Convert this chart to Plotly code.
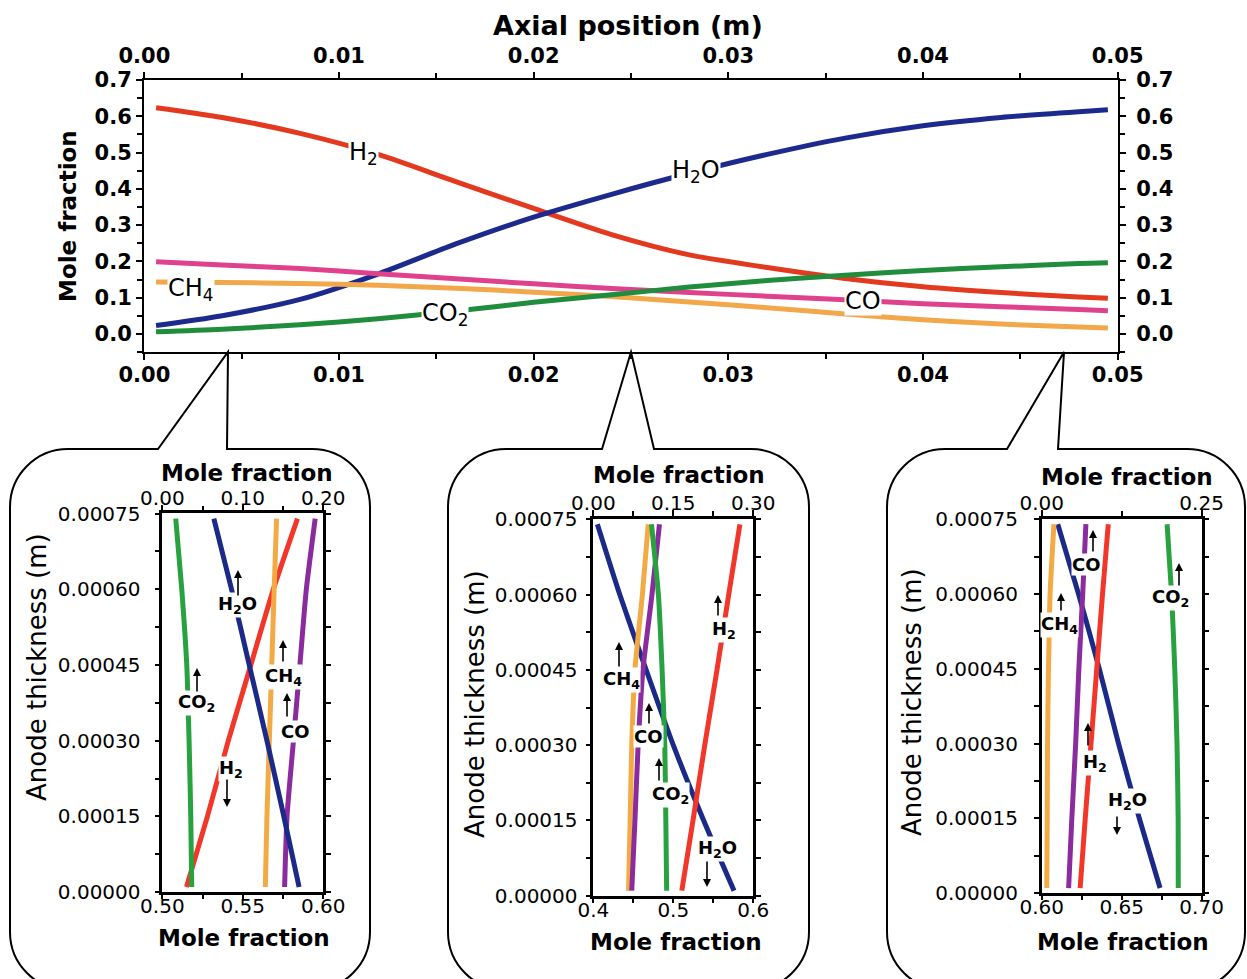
import plotly.graph_objects as go

W, H = 1247, 979
FONT = "DejaVu Sans"

# ---------------- main chart data ----------------
axial_pos = [0.0006, 0.004, 0.008, 0.012, 0.016, 0.020, 0.024, 0.028,
             0.032, 0.036, 0.040, 0.044, 0.048, 0.0495]
main_h2 = [0.624, 0.597, 0.553, 0.495, 0.420, 0.346, 0.274, 0.218,
           0.183, 0.153, 0.130, 0.114, 0.102, 0.098]
main_h2o = [0.023, 0.050, 0.095, 0.165, 0.248, 0.322, 0.385, 0.443,
            0.495, 0.540, 0.574, 0.597, 0.613, 0.618]
main_co = [0.199, 0.190, 0.180, 0.166, 0.152, 0.138, 0.125, 0.114,
           0.104, 0.094, 0.083, 0.075, 0.067, 0.064]
main_ch4 = [0.143, 0.142, 0.139, 0.134, 0.126, 0.115, 0.103, 0.088,
            0.072, 0.055, 0.039, 0.027, 0.019, 0.016]
main_co2 = [0.006, 0.013, 0.025, 0.042, 0.063, 0.087, 0.108, 0.129,
            0.147, 0.162, 0.175, 0.185, 0.194, 0.196]

# ---------------- inset data (anode thickness profiles) ----------------
thickness = [0.00001, 0.00015, 0.00030, 0.00045, 0.00060, 0.00074]

# inset 1 (near inlet): H2 on bottom axis, others on top axis
in1_h2 = [0.515, 0.528, 0.541, 0.555, 0.569, 0.584]
in1_h2o = [0.170, 0.151, 0.130, 0.108, 0.086, 0.064]
in1_ch4 = [0.128, 0.130, 0.133, 0.136, 0.139, 0.142]
in1_co = [0.152, 0.155, 0.163, 0.171, 0.179, 0.190]
in1_co2 = [0.0365, 0.0353, 0.0332, 0.0303, 0.0241, 0.0166]

# inset 2 (middle): H2O on bottom axis, others on top axis
in2_h2o = [0.576, 0.538, 0.500, 0.466, 0.433, 0.405]
in2_h2 = [0.166, 0.187, 0.209, 0.232, 0.254, 0.275]
in2_ch4 = [0.066, 0.069, 0.072, 0.078, 0.092, 0.103]
in2_co = [0.072, 0.078, 0.084, 0.093, 0.110, 0.124]
in2_co2 = [0.1375, 0.136, 0.134, 0.129, 0.122, 0.109]

# inset 3 (near outlet): H2O on bottom axis, others on top axis
in3_h2o = [0.674, 0.661, 0.648, 0.636, 0.623, 0.610]
in3_h2 = [0.060, 0.068, 0.077, 0.086, 0.095, 0.104]
in3_ch4 = [0.0078, 0.0085, 0.009, 0.0105, 0.013, 0.019]
in3_co = [0.042, 0.047, 0.053, 0.058, 0.064, 0.069]
in3_co2 = [0.2135, 0.2133, 0.2115, 0.208, 0.203, 0.196]

# colours
M_RED, M_BLUE, M_PINK, M_ORANGE, M_GREEN = "#e2391f", "#1c2a8e", "#e0418c", "#f2a74b", "#1f8d3b"
I_RED, I_BLUE, I_ORANGE, I_GREEN, I_PURPLE = "#f2372a", "#1b2a88", "#f4aa44", "#28a23f", "#8a2b9e"


def fx(x):
    return x / W


def fy(y):
    return 1 - y / H


fig = go.Figure()

# main traces
for vals, col in [(main_h2, M_RED), (main_h2o, M_BLUE), (main_co, M_PINK),
                  (main_ch4, M_ORANGE), (main_co2, M_GREEN)]:
    fig.add_trace(go.Scatter(x=axial_pos, y=vals, mode="lines", xaxis="x", yaxis="y",
                             line=dict(color=col, width=5, shape="spline", smoothing=0.8),
                             showlegend=False, hoverinfo="skip"))
# invisible twin so the top / right axes are drawn
fig.add_trace(go.Scatter(x=axial_pos, y=main_h2, mode="lines", xaxis="x2", yaxis="y2",
                         line=dict(width=0), opacity=0, showlegend=False, hoverinfo="skip"))

# inset traces: (values, colour, x-axis)
inset_sets = [
    ([(in1_co2, I_GREEN, "x4"), (in1_ch4, I_ORANGE, "x4"), (in1_co, I_PURPLE, "x4"),
      (in1_h2, I_RED, "x3"), (in1_h2o, I_BLUE, "x4")], "y3"),
    ([(in2_ch4, I_ORANGE, "x6"), (in2_co, I_PURPLE, "x6"), (in2_co2, I_GREEN, "x6"),
      (in2_h2, I_RED, "x6"), (in2_h2o, I_BLUE, "x5")], "y4"),
    ([(in3_ch4, I_ORANGE, "x8"), (in3_co, I_PURPLE, "x8"), (in3_h2, I_RED, "x8"),
      (in3_co2, I_GREEN, "x8"), (in3_h2o, I_BLUE, "x7")], "y5"),
]
for series, ya in inset_sets:
    for vals, col, xa in series:
        fig.add_trace(go.Scatter(x=vals, y=thickness, mode="lines", xaxis=xa, yaxis=ya,
                                 line=dict(color=col, width=5, shape="spline", smoothing=0.6),
                                 showlegend=False, hoverinfo="skip"))

main_tick_font = dict(family=FONT, size=21, color="black", weight="bold")
inset_tick_font = dict(family=FONT, size=20, color="black")

common = dict(showgrid=False, zeroline=False, showline=True, linecolor="black",
              ticks="outside", tickcolor="black")

main_x_dom = [fx(144), fx(1118)]
main_y_dom = [fy(352), fy(80)]


def minor(dt, t0=0, ln=5):
    return dict(ticks="outside", dtick=dt, tick0=t0, ticklen=ln, tickwidth=2, tickcolor="black")


layout = dict(
    width=W, height=H, margin=dict(l=0, r=0, t=0, b=0),
    paper_bgcolor="white", plot_bgcolor="white", template="none",
    showlegend=False,
    xaxis=dict(domain=main_x_dom, anchor="y", range=[-0.00002, 0.05002], side="bottom",
               tick0=0, dtick=0.01, tickformat=".2f", linewidth=2, ticklen=6, tickwidth=2,
               minor=minor(0.005), tickfont=main_tick_font, ticklabelstandoff=-3, **common),
    xaxis2=dict(overlaying="x", anchor="y", side="top", range=[-0.00002, 0.05002],
                tick0=0, dtick=0.01, tickformat=".2f", linewidth=2, ticklen=6, tickwidth=2,
                minor=minor(0.005), tickfont=main_tick_font, ticklabelstandoff=1, **common),
    yaxis=dict(domain=main_y_dom, anchor="x", range=[-0.05, 0.7003], tick0=0, dtick=0.1,
               tickformat=".1f", linewidth=2, ticklen=6, tickwidth=2,
               minor=minor(0.05), tickfont=main_tick_font, ticklabelstandoff=0, **common),
    yaxis2=dict(overlaying="y", anchor="x", side="right", range=[-0.05, 0.7003], tick0=0, dtick=0.1,
                tickformat=".1f", linewidth=2, ticklen=6, tickwidth=2,
                minor=minor(0.05), tickfont=main_tick_font, ticklabelstandoff=6, **common),
)

insets = [
    ((162.3, 323.3), (513.3, 892.3), ([0.5, 0.6], 0.05, 0.025, ".2f"), ([0, 0.2], 0.1, 0.05, ".2f"), ("xaxis3", "xaxis4", "x3"), "yaxis3", "y3", 10),
    ((593.3, 753.3), (519.0, 896.0), ([0.4, 0.6], 0.1, 0.05, ".1f"), ([0, 0.3], 0.15, 0.075, ".2f"), ("xaxis5", "xaxis6", "x5"), "yaxis4", "y4", 4),
    ((1041.7, 1201.7), (519.0, 893.3), ([0.6, 0.7], 0.05, 0.025, ".2f"), ([0, 0.25], 0.25, 0.125, ".2f"), ("xaxis7", "xaxis8", "x7"), "yaxis5", "y5", 12),
]
for (xr, yr, bot, top, xnames, yname, yref, ystand) in insets:
    xdom = [fx(xr[0]), fx(xr[1])]
    ydom = [fy(yr[1]), fy(yr[0])]
    b_rng, b_dt, b_minor, b_fmt = bot
    t_rng, t_dt, t_minor, t_fmt = top
    pad_b = (b_rng[1] - b_rng[0]) * 0.0005
    pad_t = (t_rng[1] - t_rng[0]) * 0.0005
    layout[xnames[0]] = dict(domain=xdom, anchor=yref, side="bottom",
                             range=[b_rng[0] - pad_b, b_rng[1] + pad_b], tick0=b_rng[0], dtick=b_dt,
                             tickformat=b_fmt, linewidth=2.5, ticklen=4, tickwidth=2,
                             minor=minor(b_minor, b_rng[0], 4),
                             tickfont=inset_tick_font, ticklabelstandoff=-10, **common)
    layout[xnames[1]] = dict(overlaying=xnames[2], anchor=yref, side="top",
                             range=[t_rng[0] - pad_t, t_rng[1] + pad_t], tick0=t_rng[0], dtick=t_dt,
                             tickformat=t_fmt, linewidth=2.5, ticklen=6, tickwidth=2,
                             minor=minor(t_minor, t_rng[0], 5),
                             tickfont=inset_tick_font, ticklabelstandoff=-8, **common)
    layout[yname] = dict(domain=ydom, anchor=xnames[2], range=[-0.0000005, 0.0007505],
                         tick0=0, dtick=0.00015, tickformat=".5f", linewidth=2.5, ticklen=5, tickwidth=2,
                         mirror="ticks", minor=minor(0.000075, 0, 5),
                         tickfont=inset_tick_font, ticklabelstandoff=ystand, **common)

fig.update_layout(**layout)

# ---------------- callout bubbles ----------------
K = 0.5523


def P(x, y):
    return f"{fx(x):.5f},{fy(y):.5f}"


def bubble(L, R, T, B, r, tl, apex, tr):
    return (f"M {P(L, T + r)} C {P(L, T + r - K * r)} {P(L + r - K * r, T)} {P(L + r, T)} "
            f"L {P(tl, T)} L {P(*apex)} L {P(tr, T)} L {P(R - r, T)} "
            f"C {P(R - r + K * r, T)} {P(R, T + r - K * r)} {P(R, T + r)} "
            f"L {P(R, B - r)} C {P(R, B - r + K * r)} {P(R - r + K * r, B)} {P(R - r, B)} "
            f"L {P(L + r, B)} C {P(L + r - K * r, B)} {P(L, B - r + K * r)} {P(L, B - r)} Z")


shapes = []
for L, R, tl, apex, tr in [(10, 370, 158, (228, 352), 227),
                           (448, 809, 602, (631, 352), 654),
                           (887, 1245, 1007, (1064, 352), 1058)]:
    shapes.append(dict(type="path", xref="paper", yref="paper", layer="below",
                       path=bubble(L, R, 449, 990, 58, tl, apex, tr),
                       line=dict(color="black", width=2), fillcolor="rgba(0,0,0,0)"))
fig.update_layout(shapes=shapes)

# ---------------- text annotations ----------------
ann = []


def text(x, y, t, size, bold=False, angle=0, bg=None):
    d = dict(x=fx(x), y=fy(y), xref="paper", yref="paper", text=t, showarrow=False,
             xanchor="center", yanchor="middle", textangle=angle,
             font=dict(family=FONT, size=size, color="black", weight="bold" if bold else "normal"))
    if bg:
        d.update(bgcolor=bg, borderpad=0)
    ann.append(d)


def arrow(x, y_head, y_tail):
    ann.append(dict(x=fx(x), y=fy(y_head), xref="paper", yref="paper", text="",
                    showarrow=True, ax=0, ay=y_tail - y_head, axref="pixel", ayref="pixel",
                    arrowhead=2, arrowsize=1, arrowwidth=1.6, arrowcolor="black"))


# main titles
text(628, 26, "Axial position (m)", 27, bold=True)
text(68, 216, "Mole fraction", 23, bold=True, angle=-90)

# main curve labels
text(363, 153, "H<sub>2</sub>", 24, bg="white")
text(696, 172, "H<sub>2</sub>O", 24, bg="white")
text(191, 289, "CH<sub>4</sub>", 24, bg="white")
text(445, 314, "CO<sub>2</sub>", 24, bg="white")
text(863, 301, "CO", 24, bg="white")

# inset titles
for cx_top, cy_top, cx_bot, cy_bot, cx_y, cy_y in [(247, 473, 244, 938, 37, 667),
                                                    (679, 475, 676, 942, 475, 704),
                                                    (1127, 477, 1123, 942, 912, 702)]:
    text(cx_top, cy_top, "Mole fraction", 23, bold=True)
    text(cx_bot, cy_bot, "Mole fraction", 23, bold=True)
    text(cx_y, cy_y, "Anode thickness (m)", 26, angle=-90)

# inset curve labels and arrows
lab = 18
# inset 1
text(237, 605, "H<sub>2</sub>O", lab, bold=True, bg="white"); arrow(238, 570, 597)
text(283, 677, "CH<sub>4</sub>", lab, bold=True, bg="white"); arrow(283, 640, 663)
text(295, 731, "CO", lab, bold=True, bg="white"); arrow(287, 693, 718)
text(196, 703, "CO<sub>2</sub>", lab, bold=True, bg="white"); arrow(197, 668, 693)
text(231, 769, "H<sub>2</sub>", lab, bold=True, bg="white"); arrow(227, 807, 778)
# inset 2
text(724, 630, "H<sub>2</sub>", lab, bold=True, bg="white"); arrow(718, 595, 617)
text(621, 680, "CH<sub>4</sub>", lab, bold=True, bg="white"); arrow(619, 642, 668)
text(648, 736, "CO", lab, bold=True, bg="white"); arrow(649, 703, 725)
text(670, 795, "CO<sub>2</sub>", lab, bold=True, bg="white"); arrow(659, 758, 782)
text(717, 849, "H<sub>2</sub>O", lab, bold=True, bg="white"); arrow(707, 887, 860)
# inset 3
text(1086, 564, "CO", lab, bold=True, bg="white"); arrow(1093, 530, 553)
text(1170, 598, "CO<sub>2</sub>", lab, bold=True, bg="white"); arrow(1179, 563, 587)
text(1059, 625, "CH<sub>4</sub>", lab, bold=True, bg="white"); arrow(1061, 593, 612)
text(1095, 763, "H<sub>2</sub>", lab, bold=True, bg="white"); arrow(1088, 723, 747)
text(1127, 801, "H<sub>2</sub>O", lab, bold=True, bg="white"); arrow(1117, 835, 815)

fig.update_layout(annotations=ann)

fig.write_html("out.html")
